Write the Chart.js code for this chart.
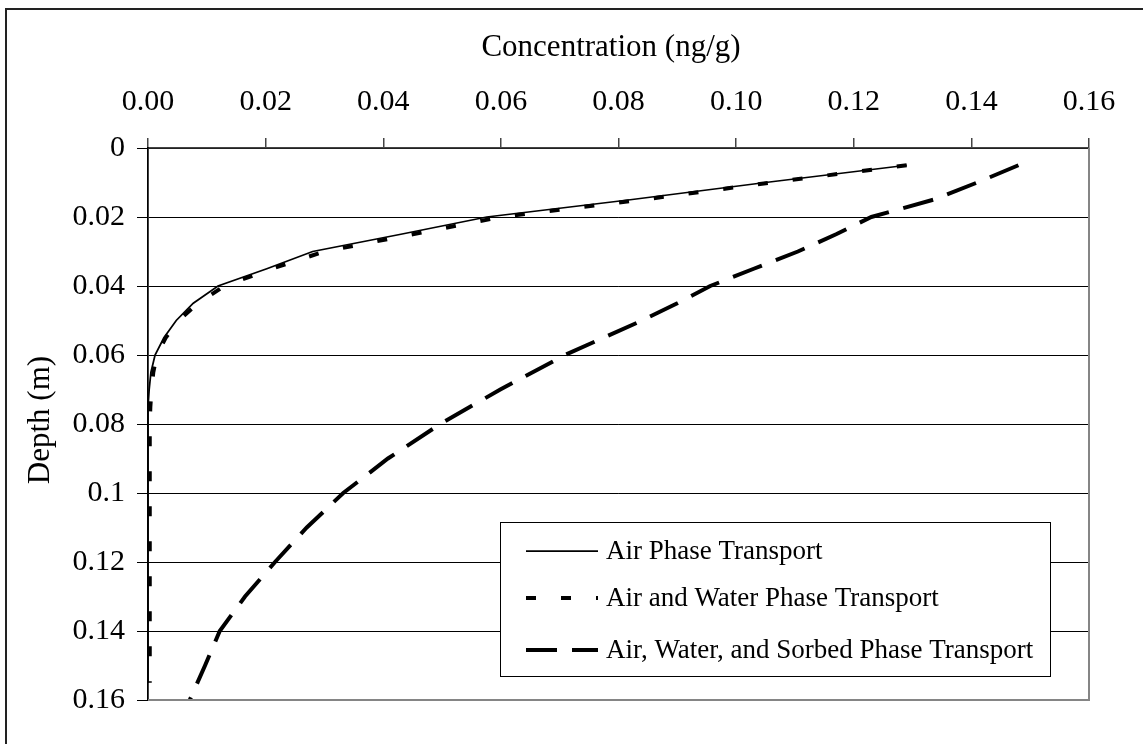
<!DOCTYPE html>
<html>
<head>
<meta charset="utf-8">
<script src="https://cdn.jsdelivr.net/npm/chart.js@4.4.1/dist/chart.umd.min.js"></script>
<style>
  html, body { margin: 0; padding: 0; background: #fff; }
  #wrap { width: 1143px; height: 744px; position: relative; }
</style>
</head>
<body>
<div id="wrap"><canvas id="c" width="1143" height="744"></canvas></div>
<script>
// ---------- data ----------
const seriesNames = ["Air Phase Transport", "Air and Water Phase Transport", "Air, Water, and Sorbed Phase Transport"];
const xTickLabels = ["0.00", "0.02", "0.04", "0.06", "0.08", "0.10", "0.12", "0.14", "0.16"];
const yTickLabels = ["0", "0.02", "0.04", "0.06", "0.08", "0.1", "0.12", "0.14", "0.16"];
const xTitle = "Concentration (ng/g)";
const yTitle = "Depth (m)";

const depthA = [0.005, 0.01, 0.015, 0.02, 0.025, 0.03, 0.035, 0.04, 0.045, 0.05, 0.055, 0.06, 0.065, 0.07, 0.075, 0.08, 0.09, 0.10, 0.11, 0.12, 0.13, 0.14, 0.15, 0.155];
const airPhase = [0.129, 0.105, 0.082, 0.0576, 0.043, 0.028, 0.0202, 0.0119, 0.0077, 0.0048, 0.0027, 0.0012, 0.0005, 0.0002, 0, 0, 0, 0, 0, 0, 0, 0, 0, 0];
const airWaterPhase = [0.129, 0.106, 0.084, 0.060, 0.045, 0.030, 0.021, 0.013, 0.0085, 0.0052, 0.003, 0.0015, 0.0009, 0.0006, 0.0004, 0.0003, 0.0003, 0.0003, 0.0003, 0.0003, 0.0003, 0.0003, 0.0003, 0.0003];

const depthC = [0.005, 0.01, 0.015, 0.02, 0.025, 0.03, 0.035, 0.04, 0.045, 0.05, 0.06, 0.07, 0.08, 0.09, 0.10, 0.11, 0.12, 0.13, 0.14, 0.15, 0.16];
const sorbedPhase = [0.148, 0.141, 0.1335, 0.123, 0.117, 0.1105, 0.103, 0.0956, 0.090, 0.084, 0.0709, 0.0599, 0.0497, 0.0408, 0.0332, 0.027, 0.0216, 0.0165, 0.0122, 0.0097, 0.0071];

// ---------- chart ----------
const FONT = "'Liberation Serif', 'Times New Roman', serif";
const pts = (xs, ys) => xs.map((x, i) => ({ x: x, y: ys[i] }));

const datasets = [
  { label: seriesNames[0], data: pts(airPhase, depthA), borderColor: '#000', borderWidth: 1.75, borderDash: [] },
  { label: seriesNames[1], data: pts(airWaterPhase, depthA), borderColor: '#000', borderWidth: 4, borderDash: [10, 25] },
  { label: seriesNames[2], data: pts(sorbedPhase, depthC), borderColor: '#000', borderWidth: 4, borderDash: [31, 15] }
].map(d => Object.assign(d, { showLine: true, pointRadius: 0, tension: 0, fill: false, borderCapStyle: 'butt' }));

const decor = {
  id: 'decor',
  beforeDraw(chart) {
    const ctx = chart.ctx;
    ctx.save();
    ctx.fillStyle = '#fff';
    ctx.fillRect(0, 0, chart.width, chart.height);
    ctx.restore();
  },
  afterDraw(chart) {
    const ctx = chart.ctx;
    const a = chart.chartArea;
    ctx.save();
    // plot area border (right & bottom, grey)
    ctx.strokeStyle = '#858585';
    ctx.lineWidth = 2;
    ctx.beginPath();
    ctx.moveTo(a.right, a.top);
    ctx.lineTo(a.right, a.bottom);
    ctx.lineTo(a.left, a.bottom);
    ctx.stroke();
    // outer chart border
    ctx.strokeStyle = '#222';
    ctx.lineWidth = 2;
    ctx.beginPath();
    ctx.moveTo(6, 760);
    ctx.lineTo(6, 9);
    ctx.lineTo(1160, 9);
    ctx.stroke();
    // axis titles
    ctx.fillStyle = '#000';
    ctx.font = "31px " + FONT;
    ctx.textAlign = 'center';
    ctx.textBaseline = 'alphabetic';
    ctx.fillText(xTitle, 611, 56);
    ctx.save();
    ctx.translate(49, 420);
    ctx.rotate(-Math.PI / 2);
    ctx.fillText(yTitle, 0, 0);
    ctx.restore();
    // legend
    const lx = 500, ly = 522, lw = 550, lh = 154;
    ctx.fillStyle = '#fff';
    ctx.fillRect(lx, ly, lw, lh);
    ctx.strokeStyle = '#000';
    ctx.lineWidth = 1;
    ctx.strokeRect(lx + 0.5, ly + 0.5, lw, lh);
    const rows = [551, 598, 650];
    chart.data.datasets.forEach((ds, i) => {
      const y = rows[i];
      ctx.save();
      ctx.strokeStyle = ds.borderColor;
      ctx.lineWidth = ds.borderWidth;
      ctx.setLineDash(ds.borderDash || []);
      ctx.lineCap = 'butt';
      ctx.beginPath();
      ctx.moveTo(526, y);
      ctx.lineTo(598, y);
      ctx.stroke();
      ctx.restore();
      ctx.fillStyle = '#000';
      ctx.font = "27px " + FONT;
      ctx.textAlign = 'left';
      ctx.textBaseline = 'middle';
      ctx.fillText(ds.label, 606, y + 1);
    });
    ctx.restore();
  }
};

new Chart(document.getElementById('c'), {
  type: 'scatter',
  data: { datasets: datasets },
  options: {
    responsive: false,
    animation: false,
    events: [],
    layout: { padding: { top: 0, left: 0, right: 54, bottom: 44 } },
    plugins: { legend: { display: false }, tooltip: { enabled: false }, title: { display: false } },
    scales: {
      x: {
        type: 'linear',
        position: 'top',
        min: 0, max: 0.16,
        afterFit(s) { s.height = 148; },
        afterBuildTicks(s) { s.ticks = xTickLabels.map((_, i) => ({ value: i * 0.02 })); },
        ticks: {
          callback: (v, i) => xTickLabels[i],
          font: { family: FONT, size: 30 },
          color: '#000',
          padding: 18,
          maxRotation: 0,
          autoSkip: false
        },
        grid: { drawOnChartArea: false, drawTicks: true, tickLength: 10, tickColor: '#444', lineWidth: 1.5 },
        border: { display: true, color: '#444', width: 1.5 },
        title: { display: false }
      },
      y: {
        type: 'linear',
        reverse: true,
        min: 0, max: 0.16,
        afterFit(s) { s.width = 148; },
        afterBuildTicks(s) { s.ticks = yTickLabels.map((_, i) => ({ value: i * 0.02 })); },
        ticks: {
          callback: (v, i) => yTickLabels[i],
          font: { family: FONT, size: 30 },
          color: '#000',
          padding: 12,
          autoSkip: false
        },
        grid: { color: '#000', lineWidth: 1, drawTicks: true, tickLength: 11, tickColor: '#000' },
        border: { display: true, color: '#000', width: 1.75 },
        title: { display: false }
      }
    }
  },
  plugins: [decor]
});
</script>
</body>
</html>
